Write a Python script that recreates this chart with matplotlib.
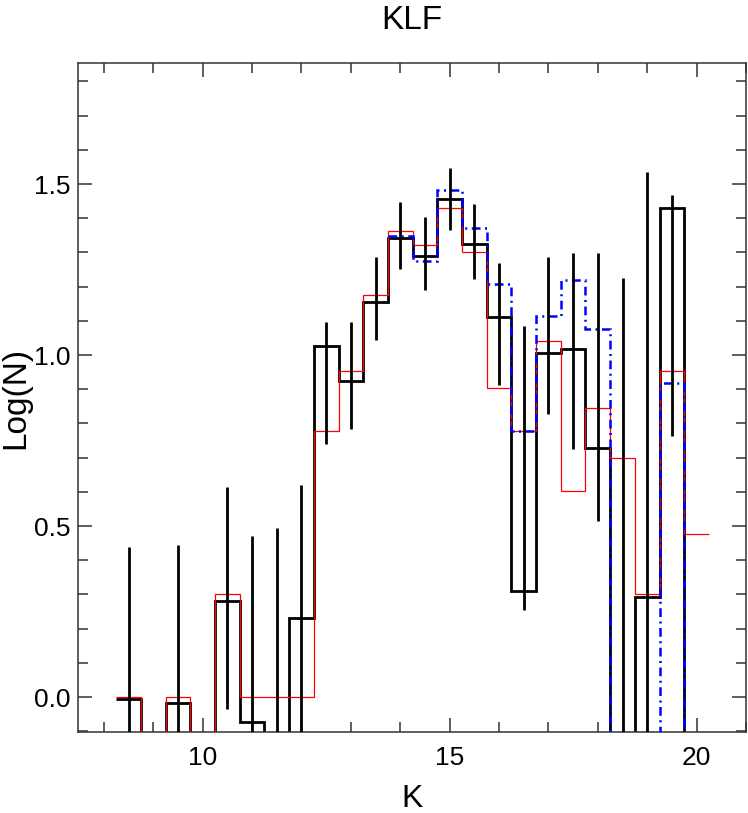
import numpy as np
import matplotlib
matplotlib.use('Agg')
import matplotlib.pyplot as plt
from matplotlib.ticker import MultipleLocator, FormatStrFormatter

plt.rcParams['font.family'] = ['Liberation Sans', 'DejaVu Sans']

#-- bin centres (mag), bin width 0.5
k_bins = np.arange(8.5, 20.01, 0.5)

#-- black: log(N) with error bars (None = empty bin)
log_black = [-0.006, None, -0.018, None, 0.28, -0.072, None, 0.23,
             1.026, 0.924, 1.154, 1.342, 1.290, 1.455, 1.326, 1.112,
             0.31, 1.007, 1.017, 0.729, None, 0.292, 1.431, None]
err_hi = [0.44, None, 0.445, None, 0.615, 0.47, 0.495, 0.62,
          1.097, 1.096, 1.286, 1.448, 1.403, 1.547, 1.443, 1.27,
          1.086, 1.287, 1.299, 1.299, 1.226, 1.536, 1.468, None]
err_lo = [None, None, None, None, -0.036, None, None, None,
          0.74, 0.783, 1.044, 1.252, 1.19, 1.365, 1.223, 0.913,
          0.254, 0.827, 0.725, 0.515, None, None, 0.763, None]

#-- red: log(N)
log_red = [0.0, None, 0.0, None, 0.301, 0.0, 0.0, 0.0,
           0.778, 0.954, 1.176, 1.363, 1.322, 1.431, 1.302, 0.903,
           0.778, 1.042, 0.602, 0.845, 0.699, 0.301, 0.954, 0.477]

#-- blue: log(N), bins 14.0 .. 20.0
k_blue = np.arange(14.0, 20.01, 0.5)
log_blue = [1.347, 1.276, 1.482, 1.372, 1.208, 0.778, 1.114, 1.219,
            1.075, None, None, 0.918, None]

FLOOR = -1.0   #-- empty bins drop out of the plot (like log(0))
W = 0.5

def fill(v):
    return np.array([FLOOR if x is None else x for x in v], dtype=float)

def edges(c):
    return np.append(c - W/2, c[-1] + W/2)

fig = plt.figure(figsize=(7.48, 8.13), dpi=100)
ax = fig.add_axes([0.1039, 0.0993, 0.8934, 0.8232])

#-- histograms (psym=10 style)
ax.stairs(fill(log_black), edges(k_bins), baseline=None, color='black', lw=2.0, zorder=2)
ax.stairs(fill(log_red), edges(k_bins), baseline=None, color='red', lw=0.9, zorder=3)
ax.stairs(fill(log_blue), edges(k_blue), baseline=None, color='blue', lw=1.8,
          linestyle=(0, (3.5, 1.8, 0.8, 1.8)), zorder=4)

#-- error bars on black histogram
hi = np.array([np.nan if x is None else x for x in err_hi], dtype=float)
lo = fill(err_lo)
ok = ~np.isnan(hi)
ax.vlines(k_bins[ok], lo[ok], hi[ok], color='black', lw=2.0, zorder=5)

ax.set_xlim(7.47, 21.0)
ax.set_ylim(-0.103, 1.854)

ax.xaxis.set_major_locator(MultipleLocator(5))
ax.xaxis.set_minor_locator(MultipleLocator(1))
ax.yaxis.set_major_locator(MultipleLocator(0.5))
ax.yaxis.set_minor_locator(MultipleLocator(0.1))
ax.yaxis.set_major_formatter(FormatStrFormatter('%.1f'))

ax.tick_params(which='both', direction='in', top=True, right=True, width=1.1, color='#333333')
ax.tick_params(which='major', length=10)
ax.tick_params(which='minor', length=7)
ax.tick_params(axis='x', which='major', labelsize=19, pad=10)
ax.tick_params(axis='y', which='major', labelsize=19, pad=5)
for s in ax.spines.values():
    s.set_linewidth(1.1)
    s.set_color('#333333')

ax.set_xlabel('K', fontsize=23)
ax.xaxis.set_label_coords(0.5, -0.077)
ax.set_ylabel('Log(N)', fontsize=24)
ax.yaxis.set_label_coords(-0.07, 0.5)

fig.text(0.551, 0.9935, 'KLF', fontsize=24, ha='center', va='top')

fig.savefig('out.png', dpi=100)
